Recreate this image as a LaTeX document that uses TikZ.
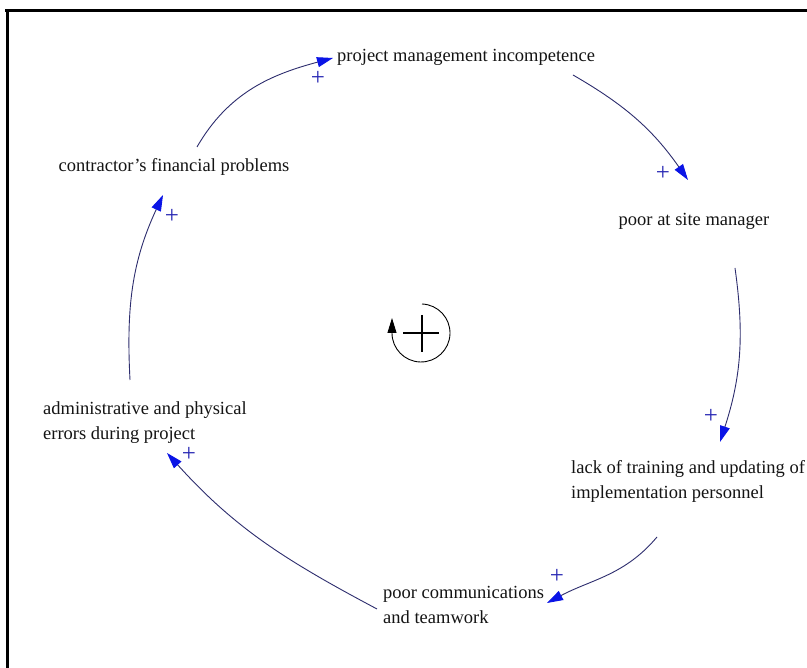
\documentclass[tikz,border=0pt]{standalone}
\usepackage{fontspec}
\setmainfont{Liberation Serif}
\usetikzlibrary{arrows.meta}
\definecolor{linkcol}{RGB}{45,45,110}
\definecolor{headcol}{RGB}{10,20,230}
\definecolor{pluscol}{RGB}{40,40,180}
\definecolor{txtcol}{RGB}{20,20,20}
\tikzset{
  lbl/.style={inner sep=0pt, text=txtcol, font=\fontsize{18.5}{25}\selectfont, align=left},
  link/.style={draw=linkcol, line width=0.9pt, -{Triangle[length=16pt,width=10pt,color=headcol,fill=headcol]}},
  pol/.style={inner sep=0pt, text=pluscol, font=\fontsize{25}{25}\selectfont},
  frame/.style={draw=black, line width=3pt},
  loopline/.style={draw=black, line width=0.9pt}
}
\begin{document}
\begin{tikzpicture}[x=1pt,y=1pt]
\useasboundingbox (0,0) rectangle (807,668);
\clip (0,0) rectangle (807,668);
\fill[white] (0,0) rectangle (807,668);
\draw[frame] (5,657) -- (810,657);
\draw[frame] (7,658.5) -- (7,-3);

\node[lbl, anchor=west] (pmi) at (337,611) {project management incompetence};
\node[lbl] (psm) at (694,447) {poor at site manager};
\node[lbl, anchor=west] (lot) at (571,187) {lack of training and updating of\\implementation personnel};
\node[lbl, anchor=west] (pct) at (383,63) {poor communications\\and teamwork};
\node[lbl, anchor=west] (adm) at (43,245) {administrative and physical\\errors during project};
\node[lbl] (cfp) at (174,501) {contractor's financial problems};

\draw[link] ([shift={(23,20)}]cfp.center) to[out=60,in=195] ([shift={(-4,-1)}]pmi.west);
\draw[link] ([shift={(236,-18)}]pmi.west) to[out=-30,in=125] ([shift={(-6,41)}]psm.center);
\draw[link] ([shift={(41,-47)}]psm.center) to[out=-82,in=72] ([shift={(149,39)}]lot.west);
\draw[link] ([shift={(86,-56)}]lot.west) to[out=-130,in=28] ([shift={(164,2)}]pct.west);
\draw[link] ([shift={(-6,-4)}]pct.west) to[out=152,in=-48] ([shift={(124,-30)}]adm.west);
\draw[link] ([shift={(87,43)}]adm.west) to[out=93,in=245] ([shift={(-11,-28)}]cfp.center);

\node[pol] (p1) at (318,590) {+};
\node[pol] (p2) at (663,495) {+};
\node[pol] (p3) at (711,252) {+};
\node[pol] (p4) at (557,92) {+};
\node[pol] (p5) at (189,214) {+};
\node[pol] (p6) at (172,452) {+};

\coordinate (lc) at (421,335);
\draw[loopline, -{Triangle[length=15pt,width=9pt]}] ([shift={(88:29)}]lc) arc[start angle=88, end angle=-180, radius=29] -- ++(0,15);
\draw[line width=2pt] (403,335) -- (439,335);
\draw[line width=2pt] (422,353) -- (422,316);
\end{tikzpicture}
\end{document}
